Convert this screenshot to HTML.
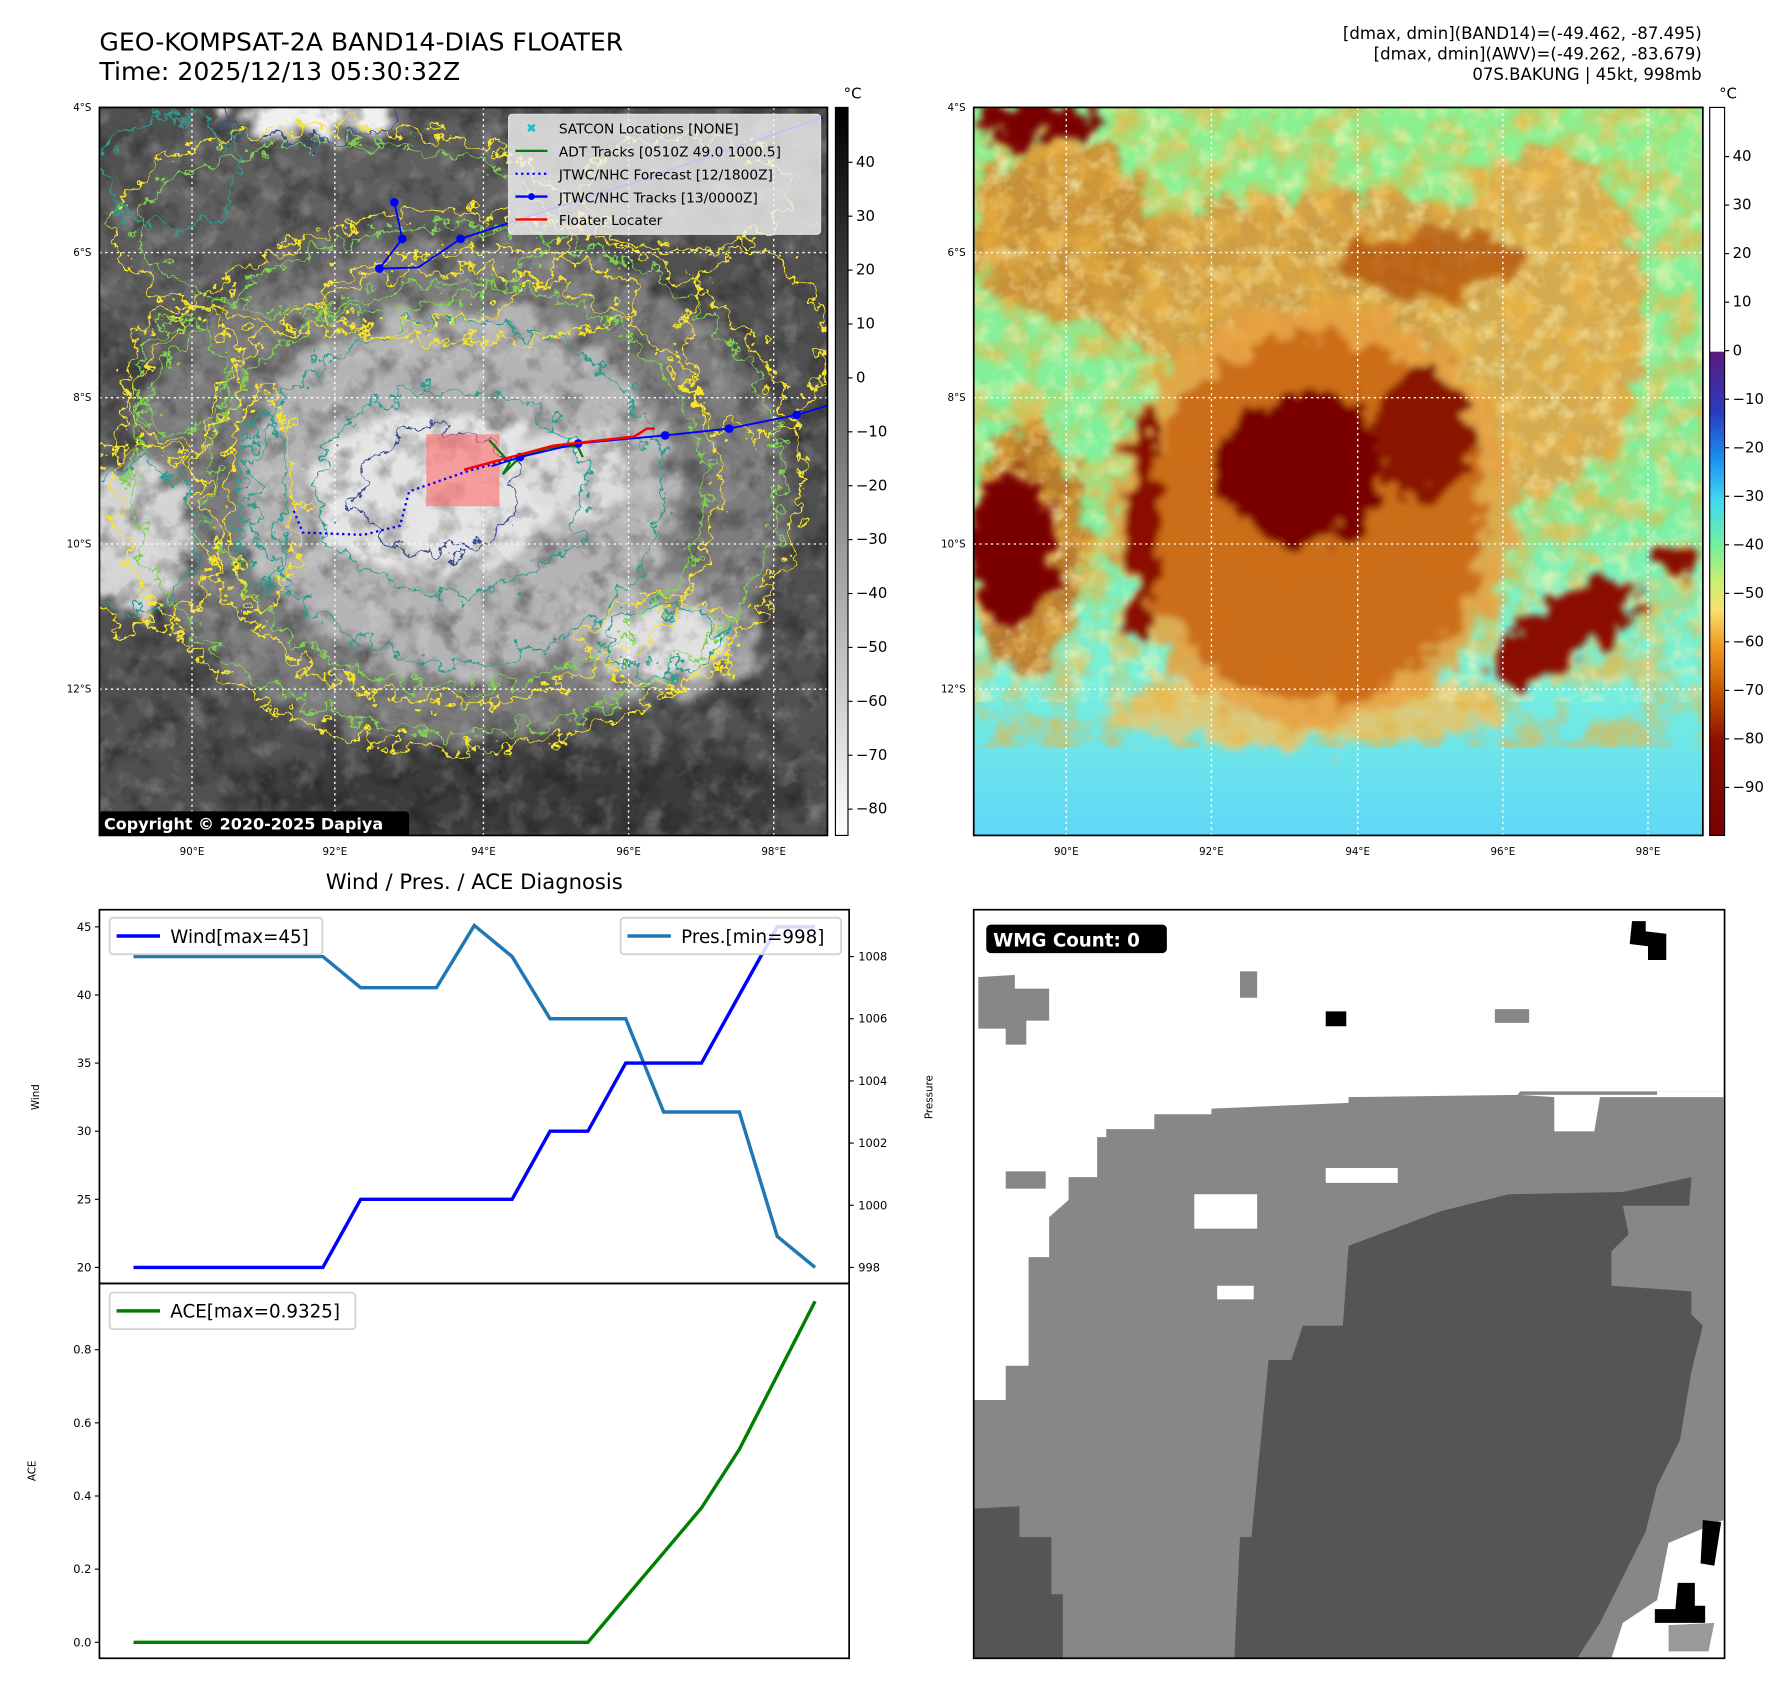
<!DOCTYPE html>
<html><head><meta charset="utf-8"><title>GK2A Floater</title>
<style>
html,body{margin:0;padding:0;background:#fff;}
svg{display:block;font-family:"DejaVu Sans","Liberation Sans",sans-serif;}
</style></head>
<body>
<svg id="fig" width="1792" height="1696" viewBox="0 0 1568 1484" xmlns="http://www.w3.org/2000/svg">
<defs>
  <filter id="wig" x="-10%" y="-10%" width="120%" height="120%">
    <feTurbulence type="fractalNoise" baseFrequency="0.06" numOctaves="4" seed="4"/>
    <feDisplacementMap in="SourceGraphic" scale="40" xChannelSelector="R" yChannelSelector="G"/>
  </filter>
  <filter id="soft" x="-20%" y="-20%" width="140%" height="140%">
    <feTurbulence type="fractalNoise" baseFrequency="0.05" numOctaves="4" seed="2"/>
    <feDisplacementMap in="SourceGraphic" scale="45" xChannelSelector="R" yChannelSelector="G" result="d"/>
    <feGaussianBlur in="d" stdDeviation="3"/>
  </filter>
  <filter id="noiseGray" x="0" y="0" width="100%" height="100%">
    <feTurbulence type="fractalNoise" baseFrequency="0.045" numOctaves="4" seed="7"/>
    <feColorMatrix type="matrix" values="0 0 0 0 0  0 0 0 0 0  0 0 0 0 0  1.6 0 0 0 -0.75"/>
  </filter>
  <filter id="noiseLight" x="0" y="0" width="100%" height="100%">
    <feTurbulence type="fractalNoise" baseFrequency="0.05" numOctaves="4" seed="11"/>
    <feColorMatrix type="matrix" values="0 0 0 0 1  0 0 0 0 1  0 0 0 0 1  0 1.6 0 0 -0.8"/>
  </filter>
  <filter id="noiseOrange" x="0" y="0" width="100%" height="100%">
    <feTurbulence type="fractalNoise" baseFrequency="0.035" numOctaves="4" seed="5"/>
    <feColorMatrix type="matrix" values="0 0 0 0 0.85  0 0 0 0 0.45  0 0 0 0 0.05  2.4 0 0 0 -0.95"/>
  </filter>
  <filter id="noiseYellow" x="0" y="0" width="100%" height="100%">
    <feTurbulence type="fractalNoise" baseFrequency="0.06" numOctaves="3" seed="13"/>
    <feColorMatrix type="matrix" values="0 0 0 0 0.98  0 0 0 0 0.9  0 0 0 0 0.45  0 2.2 0 0 -0.95"/>
  </filter>
  <linearGradient id="cbgray" x1="0" y1="0" x2="0" y2="1">
    <stop offset="0" stop-color="#000"/><stop offset="1" stop-color="#fff"/>
  </linearGradient>
  <linearGradient id="cbcol" x1="0" y1="0" x2="0" y2="1">
    <stop offset="0" stop-color="#fff"/><stop offset="0.335" stop-color="#fff"/>
    <stop offset="0.336" stop-color="#5a1a80"/>
    <stop offset="0.42" stop-color="#2a3cc0"/>
    <stop offset="0.48" stop-color="#1a8cf0"/>
    <stop offset="0.54" stop-color="#40d8f0"/>
    <stop offset="0.60" stop-color="#70f0a0"/>
    <stop offset="0.65" stop-color="#c8f070"/>
    <stop offset="0.69" stop-color="#f8e070"/>
    <stop offset="0.74" stop-color="#f09a20"/>
    <stop offset="0.80" stop-color="#c85a00"/>
    <stop offset="0.87" stop-color="#8a1000"/>
    <stop offset="1" stop-color="#780000"/>
  </linearGradient>
  <linearGradient id="rbg" x1="0" y1="0" x2="0" y2="1">
    <stop offset="0" stop-color="#8cf090"/><stop offset="0.55" stop-color="#7ef0a0"/>
    <stop offset="0.78" stop-color="#78f0dc"/><stop offset="1" stop-color="#60d8f8"/>
  </linearGradient>
  <clipPath id="clipL"><rect x="87" y="94" width="637" height="637"/></clipPath>
  <clipPath id="clipR"><rect x="852" y="94" width="638" height="637"/></clipPath>
  <clipPath id="clipBR"><rect x="852" y="796" width="657" height="655"/></clipPath>
</defs>

<!-- Titles -->
<text x="87" y="44" font-size="22" fill="#000">GEO-KOMPSAT-2A BAND14-DIAS FLOATER</text>
<text x="87" y="70" font-size="22" fill="#000">Time: 2025/12/13 05:30:32Z</text>
<g font-size="14.5" text-anchor="end" fill="#000">
  <text x="1489" y="34">[dmax, dmin](BAND14)=(-49.462, -87.495)</text>
  <text x="1489" y="52">[dmax, dmin](AWV)=(-49.262, -83.679)</text>
  <text x="1489" y="70">07S.BAKUNG | 45kt, 998mb</text>
</g>

<!-- LEFT MAP -->
<g clip-path="url(#clipL)">
  <rect x="87" y="94" width="637" height="637" fill="#505050"/>
  <g filter="url(#soft)">
    <ellipse cx="300" cy="220" rx="230" ry="120" fill="#5e5e5e"/>
    <ellipse cx="400" cy="430" rx="290" ry="220" fill="#7c7c7c"/>
    <ellipse cx="580" cy="560" rx="90" ry="50" fill="#a0a0a0"/>
    <ellipse cx="400" cy="430" rx="190" ry="160" fill="#b4b4b4"/>
    <ellipse cx="380" cy="430" rx="110" ry="70" fill="#e4e4e4"/>
    <ellipse cx="500" cy="415" rx="50" ry="40" fill="#dcdcdc"/>
    <ellipse cx="110" cy="470" rx="55" ry="65" fill="#d4d4d4"/>
    <ellipse cx="580" cy="560" rx="55" ry="30" fill="#e0e0e0"/>
    <ellipse cx="270" cy="100" rx="70" ry="20" fill="#f0f0f0"/>
    <ellipse cx="230" cy="440" rx="14" ry="70" fill="#b8b8b8"/>
    <ellipse cx="450" cy="695" rx="260" ry="40" fill="#3a3a3a"/>
  </g>
  <rect x="87" y="94" width="637" height="637" filter="url(#noiseGray)" opacity="0.55"/>
  <rect x="87" y="94" width="637" height="637" filter="url(#noiseLight)" opacity="0.35"/>
  <g fill="none" stroke-width="2" filter="url(#wig)">
    <ellipse cx="400" cy="420" rx="300" ry="235" stroke="#f6e52a"/>
    <ellipse cx="400" cy="420" rx="285" ry="222" stroke="#7fd24f"/>
    <ellipse cx="400" cy="425" rx="230" ry="190" stroke="#f6e52a"/>
    <ellipse cx="400" cy="425" rx="215" ry="178" stroke="#7fd24f"/>
    <ellipse cx="400" cy="430" rx="180" ry="150" stroke="#2a9d8f"/>
    <ellipse cx="395" cy="430" rx="120" ry="90" stroke="#2a9d8f"/>
    <ellipse cx="385" cy="430" rx="70" ry="55" stroke="#3b4e8c"/>
    <ellipse cx="120" cy="470" rx="55" ry="65" stroke="#2a9d8f"/>
    <ellipse cx="120" cy="470" rx="70" ry="80" stroke="#f6e52a"/>
    <ellipse cx="580" cy="560" rx="65" ry="38" stroke="#f6e52a"/>
    <ellipse cx="580" cy="560" rx="50" ry="28" stroke="#2a9d8f"/>
    <ellipse cx="300" cy="200" rx="200" ry="90" stroke="#f6e52a"/>
    <ellipse cx="300" cy="200" rx="180" ry="75" stroke="#7fd24f"/>
    <ellipse cx="150" cy="150" rx="60" ry="50" stroke="#2a9d8f"/>
    <ellipse cx="600" cy="170" rx="90" ry="50" stroke="#f6e52a"/>
    <ellipse cx="660" cy="300" rx="60" ry="80" stroke="#f6e52a"/>
    <ellipse cx="270" cy="100" rx="75" ry="25" stroke="#3b4e8c"/>
    <ellipse cx="230" cy="440" rx="20" ry="80" stroke="#2a9d8f"/>
    <ellipse cx="230" cy="440" rx="30" ry="95" stroke="#f6e52a"/>
    <ellipse cx="420" cy="260" rx="140" ry="40" stroke="#f6e52a"/>
    <ellipse cx="160" cy="330" rx="50" ry="60" stroke="#f6e52a"/>
    <ellipse cx="160" cy="330" rx="40" ry="48" stroke="#7fd24f"/>
  </g>
  <g stroke="#fff" stroke-width="1.2" stroke-dasharray="2,3">
    <line x1="168" y1="94" x2="168" y2="731"/><line x1="293" y1="94" x2="293" y2="731"/>
    <line x1="423" y1="94" x2="423" y2="731"/><line x1="550" y1="94" x2="550" y2="731"/>
    <line x1="677" y1="94" x2="677" y2="731"/>
    <line x1="87" y1="221" x2="724" y2="221"/><line x1="87" y1="348" x2="724" y2="348"/>
    <line x1="87" y1="476" x2="724" y2="476"/><line x1="87" y1="603" x2="724" y2="603"/>
  </g>
  <rect x="373" y="380" width="64" height="63" fill="#ff6a6a" opacity="0.6"/>
  <polyline points="257,447 265,466 318,468 350,460 358,430 410,412 455,400" fill="none" stroke="#0000ff" stroke-width="2" stroke-dasharray="2,3"/>
  <polyline points="428,385 446,405 440,415 455,400 480,392 505,390 510,400" fill="none" stroke="#087a08" stroke-width="2"/>
  <g fill="#0000ff" stroke="#0000ff" stroke-width="1.6">
    <polyline fill="none" points="345,177 352,209 332,235 366,234 403,209 476,185 560,158 640,130 720,103"/>
    <circle cx="345" cy="177" r="3"/><circle cx="352" cy="209" r="3"/><circle cx="332" cy="235" r="3"/>
    <circle cx="403" cy="209" r="3"/>
    <polyline fill="none" points="724,355 697,363 638,375 582,381 506,388 455,400 430,408"/>
    <circle cx="697" cy="363" r="3"/><circle cx="638" cy="375" r="3"/><circle cx="582" cy="381" r="3"/><circle cx="506" cy="388" r="3"/><circle cx="455" cy="400" r="3"/>
  </g>
  <polyline points="406,411 484,390 555,382 566,375 573,375" fill="none" stroke="#ff0000" stroke-width="2.2"/>
  <g>
    <rect x="445" y="100" width="273" height="105" fill="#f2f2f2" fill-opacity="0.8" stroke="#ddd" rx="3"/>
    <g font-size="12" fill="#000">
      <text x="465" y="116" font-size="11" fill="#17becf" text-anchor="middle">✖</text>
      <text x="489" y="117">SATCON Locations [NONE]</text>
      <line x1="451" y1="132" x2="479" y2="132" stroke="#087a08" stroke-width="2"/>
      <text x="489" y="137">ADT Tracks [0510Z 49.0 1000.5]</text>
      <line x1="451" y1="152" x2="479" y2="152" stroke="#0000ff" stroke-width="2" stroke-dasharray="2,3"/>
      <text x="489" y="157">JTWC/NHC Forecast [12/1800Z]</text>
      <line x1="451" y1="172" x2="479" y2="172" stroke="#0000ff" stroke-width="2"/><circle cx="465" cy="172" r="3" fill="#0000ff"/>
      <text x="489" y="177">JTWC/NHC Tracks [13/0000Z]</text>
      <line x1="451" y1="192" x2="479" y2="192" stroke="#ff0000" stroke-width="2"/>
      <text x="489" y="197">Floater Locater</text>
    </g>
  </g>
  <rect x="87" y="710" width="271" height="22" fill="#000" rx="3"/>
  <text x="91" y="726" font-size="14" font-weight="bold" fill="#fff">Copyright © 2020-2025 Dapiya</text>
</g>
<rect x="87" y="94" width="637" height="637" fill="none" stroke="#000" stroke-width="1.5"/>

<!-- RIGHT MAP -->
<g clip-path="url(#clipR)">
  <rect x="852" y="94" width="638" height="637" fill="url(#rbg)"/>
  <g filter="url(#soft)" opacity="0.8">
    <ellipse cx="1160" cy="250" rx="230" ry="80" fill="#e08a30"/>
    <ellipse cx="1350" cy="280" rx="90" ry="150" fill="#e89a40"/>
    <ellipse cx="930" cy="200" rx="80" ry="80" fill="#d87a20"/>
    <ellipse cx="900" cy="480" rx="50" ry="110" fill="#c86010"/>
    <ellipse cx="1140" cy="620" rx="170" ry="30" fill="#f0c870"/>
  </g>
  <rect x="852" y="94" width="638" height="520" filter="url(#noiseYellow)" opacity="0.7"/>
  <rect x="852" y="94" width="638" height="560" filter="url(#noiseOrange)" opacity="0.7"/>
  <g filter="url(#soft)">
    <ellipse cx="1150" cy="450" rx="175" ry="185" fill="#e8a040" opacity="0.85"/>
    <ellipse cx="1150" cy="455" rx="150" ry="160" fill="#c86410" opacity="0.85"/>
    <ellipse cx="1140" cy="410" rx="72" ry="68" fill="#7a0000"/>
    <ellipse cx="1245" cy="380" rx="40" ry="60" fill="#8a1800"/>
    <ellipse cx="885" cy="480" rx="38" ry="65" fill="#7a0000"/>
    <ellipse cx="1000" cy="460" rx="14" ry="100" fill="#8a1000"/>
    <ellipse cx="1370" cy="550" rx="75" ry="28" fill="#8a1000" transform="rotate(-30 1370 550)"/>
    <ellipse cx="910" cy="108" rx="60" ry="16" fill="#7a0000"/>
    <ellipse cx="1470" cy="490" rx="16" ry="14" fill="#8a1000"/>
    <ellipse cx="1250" cy="230" rx="80" ry="30" fill="#b04a08" opacity="0.7"/>
  </g>
  <g stroke="#fff" stroke-width="1.2" stroke-dasharray="2,3">
    <line x1="933" y1="94" x2="933" y2="731"/><line x1="1060" y1="94" x2="1060" y2="731"/>
    <line x1="1188" y1="94" x2="1188" y2="731"/><line x1="1315" y1="94" x2="1315" y2="731"/>
    <line x1="1442" y1="94" x2="1442" y2="731"/>
    <line x1="852" y1="221" x2="1490" y2="221"/><line x1="852" y1="348" x2="1490" y2="348"/>
    <line x1="852" y1="476" x2="1490" y2="476"/><line x1="852" y1="603" x2="1490" y2="603"/>
  </g>
</g>
<rect x="852" y="94" width="638" height="637" fill="none" stroke="#000" stroke-width="1.5"/>

<!-- map axis labels -->
<g font-size="9" fill="#000" text-anchor="end">
  <text x="80" y="97">4°S</text><text x="80" y="224">6°S</text><text x="80" y="351">8°S</text><text x="80" y="479">10°S</text><text x="80" y="606">12°S</text>
  <text x="845" y="97">4°S</text><text x="845" y="224">6°S</text><text x="845" y="351">8°S</text><text x="845" y="479">10°S</text><text x="845" y="606">12°S</text>
</g>
<g font-size="9" fill="#000" text-anchor="middle">
  <text x="168" y="748">90°E</text><text x="293" y="748">92°E</text><text x="423" y="748">94°E</text><text x="550" y="748">96°E</text><text x="677" y="748">98°E</text>
  <text x="933" y="748">90°E</text><text x="1060" y="748">92°E</text><text x="1188" y="748">94°E</text><text x="1315" y="748">96°E</text><text x="1442" y="748">98°E</text>
</g>

<!-- colorbars -->
<g>
  <rect x="731" y="94" width="11" height="637" fill="url(#cbgray)" stroke="#000" stroke-width="1"/>
  <text x="746" y="86" font-size="13" text-anchor="middle">°C</text>
  <g id="cbL" font-size="13"></g>
</g>
<g>
  <rect x="1496" y="94" width="13" height="637" fill="url(#cbcol)" stroke="#000" stroke-width="1"/>
  <text x="1512" y="86" font-size="13" text-anchor="middle">°C</text>
  <g id="cbR" font-size="13"></g>
</g>

<!-- Bottom-left chart -->
<text x="415" y="778" font-size="18.5" text-anchor="middle">Wind / Pres. / ACE Diagnosis</text>
<g id="chart"></g>

<!-- Bottom-right -->
<g>
  <g clip-path="url(#clipBR)">
    <rect x="852" y="796" width="657" height="655" fill="#fff"/>
    <polygon fill="#878787" points="852,1225 880,1225 880,1195 900,1195 900,1100 918,1100 918,1065 935,1050 935,1030 960,1030 960,995 968,995 968,988 1010,988 1010,975 1060,975 1060,970 1180,965 1180,960 1328,958 1330,955 1508,955 1508,1451 852,1451"/>
    <polygon fill="#878787" points="856,855 888,853 888,865 918,865 918,893 898,893 898,914 880,914 880,900 856,900"/>
    <polygon fill="#878787" points="1085,850 1100,850 1100,873 1085,873"/>
    <polygon fill="#878787" points="1308,883 1338,883 1338,895 1308,895"/>
    <polygon fill="#878787" points="880,1025 915,1025 915,1040 880,1040"/>
    <polygon fill="#fff" points="1160,1022 1223,1022 1223,1035 1160,1035"/>
    <polygon fill="#fff" points="1045,1045 1100,1045 1100,1075 1045,1075"/>
    <polygon fill="#fff" points="1065,1125 1097,1125 1097,1137 1065,1137"/>
    <polygon fill="#fff" points="1330,958 1450,958 1450,955 1508,955 1508,960 1400,960 1395,990 1360,990 1360,960"/>
    <polygon fill="#555" points="1080,1451 1085,1345 1095,1345 1110,1190 1130,1190 1140,1160 1175,1160 1180,1090 1220,1075 1260,1060 1300,1050 1320,1045 1420,1043 1480,1030 1478,1055 1420,1055 1425,1080 1410,1095 1410,1125 1480,1130 1480,1150 1490,1160 1480,1200 1470,1260 1450,1300 1440,1340 1420,1380 1400,1420 1380,1451"/>
    <polygon fill="#555" points="852,1320 892,1318 892,1345 920,1345 920,1395 930,1395 930,1451 852,1451"/>
    <polygon fill="#000" points="1428,806 1440,806 1440,815 1458,817 1458,840 1442,840 1442,828 1426,826"/>
    <polygon fill="#000" points="1160,885 1178,885 1178,898 1160,898"/>
    <polygon fill="#fff" points="1460,1350 1508,1330 1508,1451 1410,1451 1420,1420 1450,1400"/>
    <polygon fill="#000" points="1490,1330 1506,1332 1500,1370 1488,1368"/>
    <polygon fill="#000" points="1468,1385 1483,1385 1483,1405 1492,1405 1492,1420 1448,1420 1448,1408 1466,1408"/>
    <polygon fill="#999" points="1460,1422 1500,1420 1495,1445 1460,1445"/>
  </g>
  <rect x="852" y="796" width="657" height="655" fill="none" stroke="#000" stroke-width="1.5"/>
  <rect x="863" y="809" width="158" height="25" rx="4" fill="#000"/>
  <text x="869" y="828" font-size="16" font-weight="bold" fill="#fff">WMG Count: 0</text>
</g>
</svg>

<script>
// ---- chart data ----
var steps = [0,1,2,3,4,5,6,7,8,9,10,11,12,13,14,15,16,17,18];
var windValues = [20,20,20,20,20,20,25,25,25,25,25,30,30,35,35,35,40,45,45];
var presValues = [1008,1008,1008,1008,1008,1008,1007,1007,1007,1009,1008,1006,1006,1006,1003,1003,1003,999,998];
var aceValues = [0,0,0,0,0,0,0,0,0,0,0,0,0,0.1225,0.245,0.3675,0.5275,0.73,0.9325];
var windTicks = [20,25,30,35,40,45];
var presTicks = [998,1000,1002,1004,1006,1008];
var aceTicks = [0.0,0.2,0.4,0.6,0.8];
var irCbTicks = [40,30,20,10,0,-10,-20,-30,-40,-50,-60,-70,-80];
var awvCbTicks = [40,30,20,10,0,-10,-20,-30,-40,-50,-60,-70,-80,-90];

var NS = 'http://www.w3.org/2000/svg';
function mk(tag, attrs, parent){ var e=document.createElementNS(NS,tag); for(var k in attrs) e.setAttribute(k, attrs[k]); parent.appendChild(e); return e; }
function lin(d0,d1,r0,r1){ return function(v){ return r0+(v-d0)*(r1-r0)/(d1-d0); }; }

// colorbars
var cbL = document.getElementById('cbL');
var yL = lin(40,-80,142,708);
irCbTicks.forEach(function(t){
  var y=yL(t);
  mk('line',{x1:742,y1:y,x2:746,y2:y,stroke:'#000'},cbL);
  var tx=mk('text',{x:749,y:y+4},cbL); tx.textContent = t<0 ? '\u2212'+(-t) : t;
  
  
});
var cbR = document.getElementById('cbR');
var yR = lin(40,-90,137,689);
awvCbTicks.forEach(function(t){
  var y=yR(t);
  mk('line',{x1:1509,y1:y,x2:1513,y2:y,stroke:'#000'},cbR);
  var tx=mk('text',{x:1516,y:y+4},cbR); tx.textContent = t<0 ? '\u2212'+(-t) : t;
  
  
});

// diagnosis chart
var g = document.getElementById('chart');
var X0=87, X1=743, TOP=796, MID=1123, BOT=1451;
var xs = lin(-0.9, 18.9, X0, X1);
var yW = lin(20,45,1109,811);
var yP = lin(998,1008,1109,837);
var yA = lin(0,0.8,1437,1181);
function pts(vals, ys){ return vals.map(function(v,i){ return xs(steps[i]).toFixed(1)+','+ys(v).toFixed(1); }).join(' '); }

mk('rect',{x:X0,y:TOP,width:X1-X0,height:BOT-TOP,fill:'#fff'},g);
var pl = mk('polyline',{points:pts(presValues,yP),fill:'none',stroke:'#1f77b4','stroke-width':3},g);


var wl = mk('polyline',{points:pts(windValues,yW),fill:'none',stroke:'#0000ff','stroke-width':3},g);


var al = mk('polyline',{points:pts(aceValues,yA),fill:'none',stroke:'#008000','stroke-width':3},g);



mk('rect',{x:X0,y:TOP,width:X1-X0,height:MID-TOP,fill:'none',stroke:'#000','stroke-width':1.5},g);
mk('rect',{x:X0,y:MID,width:X1-X0,height:BOT-MID,fill:'none',stroke:'#000','stroke-width':1.5},g);

windTicks.forEach(function(t){ var y=yW(t);
  mk('line',{x1:X0-4,y1:y,x2:X0,y2:y,stroke:'#000'},g);
  var tx=mk('text',{x:X0-7,y:y+3.5,'font-size':10,'text-anchor':'end'},g); tx.textContent=t;
  
  
});
presTicks.forEach(function(t){ var y=yP(t);
  mk('line',{x1:X1,y1:y,x2:X1+4,y2:y,stroke:'#000'},g);
  var tx=mk('text',{x:X1+8,y:y+3.5,'font-size':10},g); tx.textContent=t;
  
  
});
aceTicks.forEach(function(t){ var y=yA(t);
  mk('line',{x1:X0-4,y1:y,x2:X0,y2:y,stroke:'#000'},g);
  var tx=mk('text',{x:X0-7,y:y+3.5,'font-size':10,'text-anchor':'end'},g); tx.textContent=t.toFixed(1);
  
  
});
var t1=mk('text',{x:34,y:960,'font-size':9,'text-anchor':'middle',transform:'rotate(-90 34 960)'},g); t1.textContent='Wind';


var t2=mk('text',{x:816,y:960,'font-size':9,'text-anchor':'middle',transform:'rotate(-90 816 960)'},g); t2.textContent='Pressure';


var t3=mk('text',{x:31,y:1287,'font-size':9,'text-anchor':'middle',transform:'rotate(-90 31 1287)'},g); t3.textContent='ACE';



function legend(x,y,w,color,label,name){
  var lg=mk('g',{},g);
  
  
  mk('rect',{x:x,y:y,width:w,height:32,fill:'#fff','fill-opacity':0.85,stroke:'#d0d0d0','stroke-width':1.5,rx:3},lg);
  mk('line',{x1:x+6,y1:y+16,x2:x+44,y2:y+16,stroke:color,'stroke-width':3},lg);
  var tx=mk('text',{x:x+53,y:y+22,'font-size':16},lg); tx.textContent=label;
}
legend(96,803,186,'#0000ff','Wind[max=45]','wind-legend');
legend(543,803,193,'#1f77b4','Pres.[min=998]','pressure-legend');
legend(96,1131,215,'#008000','ACE[max=0.9325]','ace-legend');
</script>
</body></html>
